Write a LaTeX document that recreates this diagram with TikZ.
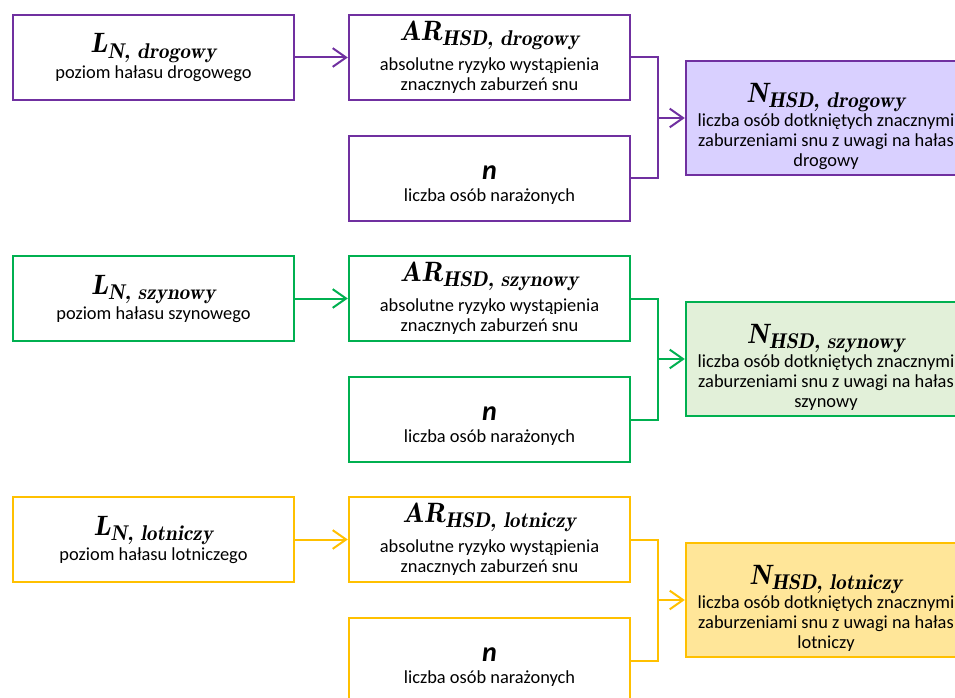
\documentclass[tikz,border=0pt]{standalone}
\usepackage{fontspec}
\setmainfont{Carlito}
\usetikzlibrary{arrows.meta}
\definecolor{pur}{HTML}{7030A0}
\definecolor{purfill}{HTML}{D9D0FF}
\definecolor{grn}{HTML}{00B050}
\definecolor{grnfill}{HTML}{E2F0D9}
\definecolor{yel}{HTML}{FFC000}
\definecolor{yelfill}{HTML}{FFE699}
\newcommand\ttl[2]{{\fontfamily{lmr}\fontsize{21}{22}\selectfont\bfseries\itshape #1\raisebox{-4pt}{\fontsize{16}{16}\selectfont #2}}}
\newcommand\nfnt{\fontsize{21}{22}\selectfont\bfseries\itshape}
\tikzset{
  box/.style={draw=#1, line width=1.8pt, fill=white, rectangle, minimum width=210.75pt, minimum height=63.75pt, inner sep=0pt, align=center, font=\fontsize{13.8}{15}\selectfont},
  bigbox/.style={box=#1, minimum width=210pt, minimum height=85.5pt},
  lin/.style={draw=#1, line width=1.5pt},
  conn/.style={lin=#1, -{Straight Barb[length=10pt,width=14pt]}},
}
\newcommand\mkrow[6]{%
\begin{scope}[shift={(0,#2)}]
\node[box=#3] (L#1) at (153.5,57.5) {\ttl{L}{N, #5}\\[1pt] poziom hałasu #6};
\node[box=#3] (A#1) at (489.5,57.5) {\ttl{AR}{HSD, #5}\\[5pt] absolutne ryzyko wystąpienia\\ znacznych zaburzeń snu};
\node[box=#3] (n#1) at (489.5,178.5) {\rule{0pt}{20pt}{\nfnt n}\\[1pt] liczba osób narażonych};
\node[bigbox=#3, fill=#4] (N#1) at (826,118) {\rule{0pt}{27pt}\ttl{N}{HSD, #5}\\[0.5pt] liczba osób dotkniętych znacznymi\\ zaburzeniami snu z uwagi na hałas\\ #5};
\coordinate (m#1) at (658,118);
\draw[conn=#3] (L#1) -- (A#1);
\draw[lin=#3] (A#1.east) -| (m#1) |- (n#1.east);
\draw[conn=#3] (m#1) -- (N#1.west);
\end{scope}}
\begin{document}
\begin{tikzpicture}[x=0.75pt,y=-0.75pt]
\useasboundingbox (0,0) rectangle (955,698);
\clip (0,0) rectangle (955,698);
\mkrow{1}{0}{pur}{purfill}{drogowy}{drogowego}
\mkrow{2}{241}{grn}{grnfill}{szynowy}{szynowego}
\mkrow{3}{482}{yel}{yelfill}{lotniczy}{lotniczego}
\end{tikzpicture}
\end{document}
